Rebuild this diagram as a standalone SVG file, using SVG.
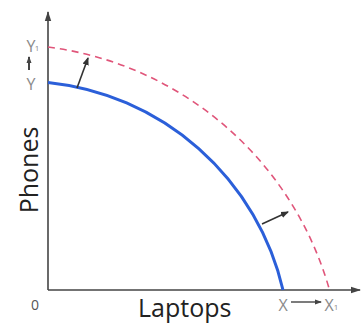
<svg xmlns="http://www.w3.org/2000/svg" width="361" height="328" viewBox="0 0 361 328">
<style>
.axis{stroke:#444;stroke-width:1.6;fill:none}
.lbl{font-family:"Open Sans","Liberation Sans",sans-serif;fill:#8a8a8a}
.title{font-family:"Open Sans","Liberation Sans",sans-serif;fill:#222;font-size:25px}
.shift{stroke:#333;stroke-width:1.6;fill:none}
</style>
<defs>
<marker id="ah" markerWidth="8" markerHeight="8" refX="7" refY="4" orient="auto" markerUnits="userSpaceOnUse">
<path d="M0,0.8 L8,4 L0,7.2 Z" fill="#333"/>
</marker>
<marker id="axh" markerWidth="10" markerHeight="8" refX="9" refY="4" orient="auto" markerUnits="userSpaceOnUse">
<path d="M0,0.8 L10,4 L0,7.2 Z" fill="#444"/>
</marker>
<marker id="gh" markerWidth="7" markerHeight="6" refX="6" refY="3" orient="auto" markerUnits="userSpaceOnUse">
<path d="M0,0.5 L7,3 L0,5.5 Z" fill="#444"/>
</marker>
</defs>
<rect width="361" height="328" fill="#fff"/>
<g id="connectors">
<line class="axis" x1="48" y1="290" x2="48" y2="12" marker-end="url(#axh)"/>
<line class="axis" x1="48" y1="290" x2="360" y2="290" marker-end="url(#axh)"/>
<path id="ppf" d="M48,82.5 A270,270 0 0 1 283,290" fill="none" stroke="#2b5fd9" stroke-width="3"/>
<path id="ppf2" d="M48,47 A337,337 0 0 1 329.5,290" fill="none" stroke="#e0557a" stroke-width="1.6" stroke-dasharray="7,5"/>
<line class="shift" x1="77" y1="88" x2="88" y2="58" marker-end="url(#ah)"/>
<line class="shift" x1="262" y1="224" x2="288" y2="212" marker-end="url(#ah)"/>
<line x1="29" y1="70" x2="29" y2="57" stroke="#444" stroke-width="2" marker-end="url(#gh)"/>
<line x1="291" y1="302" x2="321" y2="302" stroke="#444" stroke-width="1.4" marker-end="url(#gh)"/>
</g>
<g id="labels">
<text class="lbl" x="31" y="52" font-size="16" text-anchor="middle">Y</text>
<text class="lbl" x="37" y="51" font-size="8" text-anchor="middle">1</text>
<text class="lbl" x="31" y="90" font-size="16" text-anchor="middle">Y</text>
<text class="lbl" x="35" y="310" font-size="14" text-anchor="middle" style="fill:#555">0</text>
<text class="lbl" x="283" y="311" font-size="16" text-anchor="middle">X</text>
<text class="lbl" x="329" y="311" font-size="16" text-anchor="middle">X</text>
<text class="lbl" x="336" y="310" font-size="8" text-anchor="middle">1</text>
<text class="title" x="138" y="317">Laptops</text>
<text class="title" transform="translate(38,170) rotate(-90)" text-anchor="middle">Phones</text>
</g>
</svg>
